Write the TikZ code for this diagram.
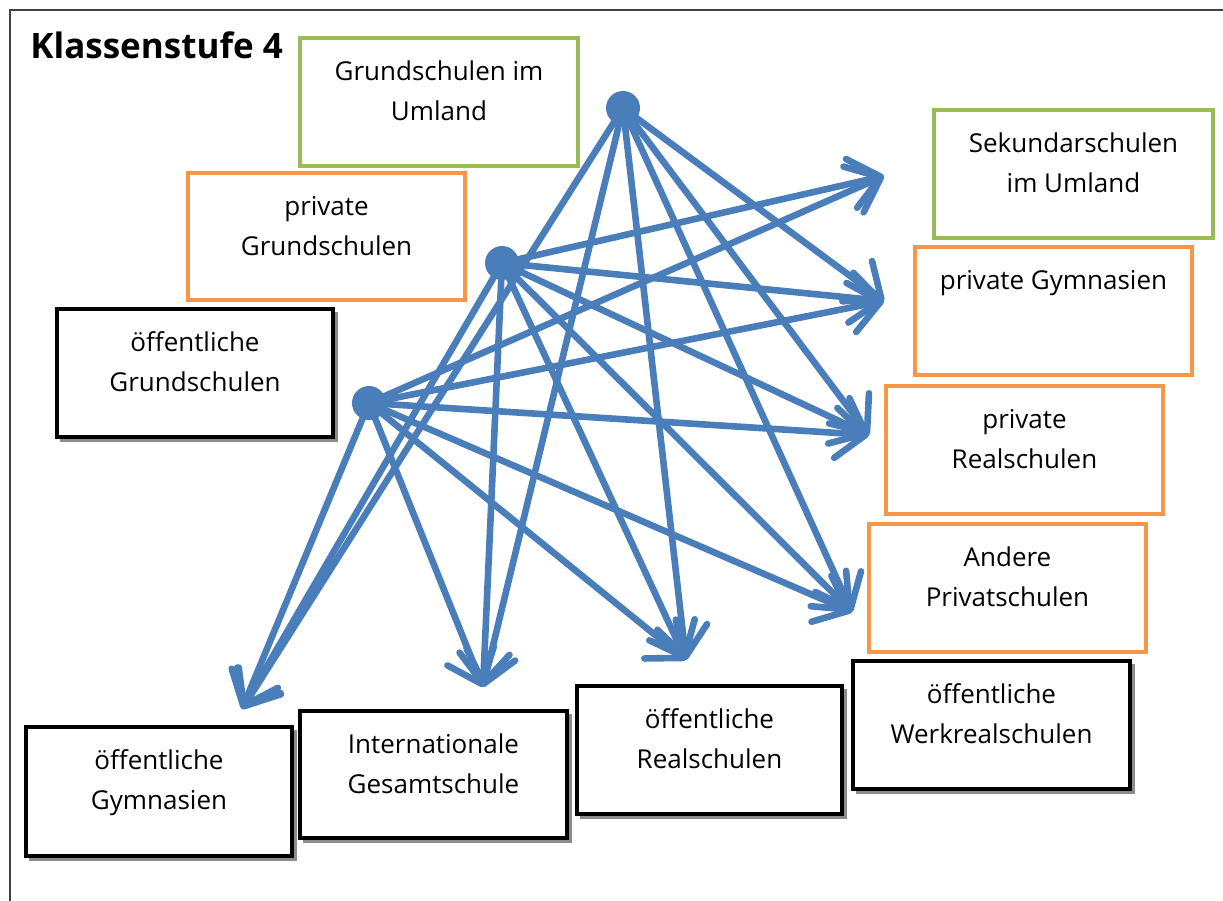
\documentclass[tikz,border=0pt]{standalone}
\usepackage{fontspec}
\setmainfont{Open Sans}
\usetikzlibrary{arrows.meta}
\definecolor{cgreen}{HTML}{9BBB59}
\definecolor{corange}{HTML}{F79646}
\definecolor{cblue}{HTML}{4A7EBB}
\definecolor{cframe}{HTML}{404040}
\tikzset{
  box/.style={rectangle, line width=2pt, outer sep=0pt, inner sep=0pt},
  gbox/.style={box, draw=cgreen},
  obox/.style={box, draw=corange},
  kbox/.style={box, draw=black, line width=2.2pt},
  shadowline/.style={draw=black!45, line width=1.5pt},
  txt/.style={font=\fontsize{13}{20}\selectfont, align=center, inner sep=0pt, anchor=north},
  arr/.style={draw=cblue, line width=3.3pt, line cap=round, -{Straight Barb[length=15pt,width=25pt,round]}},
  dot/.style={circle, fill=cblue, minimum size=17pt, inner sep=0pt},
  title/.style={font=\fontsize{17.5}{20}\selectfont\bfseries, anchor=west, inner sep=0pt}
}
\newcommand{\shadowof}[1]{\draw[shadowline] ([shift={(3,3)}]#1.south west) -- ([shift={(3,3)}]#1.south east) -- ([shift={(3,3)}]#1.north east);}
\begin{document}
\begin{tikzpicture}[x=0.5pt,y=-0.5pt]
\useasboundingbox (0,0) rectangle (1223,901);
\fill[white] (0,0) rectangle (1223,901);
\draw[cframe, line width=1pt] (1223,10) -- (10,10) -- (10,901);

\node[title] (ttl) at (30,45) {Klassenstufe 4};

% boxes
\node[gbox, minimum width=139pt, minimum height=64pt] (gu) at (439,102) {};
\node[obox, minimum width=138.5pt, minimum height=63.5pt] (pg) at (326.5,236.5) {};
\node[kbox, minimum width=138pt, minimum height=64pt] (og) at (195,373) {};
\node[gbox, minimum width=139.5pt, minimum height=64pt] (su) at (1073.5,174) {};
\node[obox, minimum width=138.5pt, minimum height=64pt] (pgym) at (1053.5,311) {};
\node[obox, minimum width=138.5pt, minimum height=64pt] (preal) at (1024.5,450) {};
\node[obox, minimum width=138.5pt, minimum height=64pt] (andp) at (1007.5,588) {};
\node[kbox, minimum width=138.5pt, minimum height=64pt] (owr) at (991.5,725) {};
\node[kbox, minimum width=132.5pt, minimum height=64pt] (orl) at (709.5,750) {};
\node[kbox, minimum width=133.5pt, minimum height=63.5pt] (igs) at (433.5,774.5) {};
\node[kbox, minimum width=133pt, minimum height=64.5pt] (ogym) at (159,791.5) {};

\shadowof{og}
\shadowof{owr}
\shadowof{orl}
\shadowof{igs}
\shadowof{ogym}

% texts
\node[txt] (tgu) at ([yshift=-7pt]gu.north) {\strut Grundschulen im\\Umland};
\node[txt] (tpg) at ([yshift=-7pt]pg.north) {\strut private\\Grundschulen};
\node[txt] (tog) at ([yshift=-7pt]og.north) {\strut öffentliche\\Grundschulen};
\node[txt] (tsu) at ([yshift=-7pt]su.north) {\strut Sekundarschulen\\im Umland};
\node[txt] (tpgym) at ([yshift=-7pt]pgym.north) {\strut private Gymnasien};
\node[txt] (tpreal) at ([yshift=-7pt]preal.north) {\strut private\\Realschulen};
\node[txt] (tandp) at ([yshift=-7pt]andp.north) {\strut Andere\\Privatschulen};
\node[txt] (towr) at ([yshift=-7pt]owr.north) {\strut öffentliche\\Werkrealschulen};
\node[txt] (torl) at ([yshift=-7pt]orl.north) {\strut öffentliche\\Realschulen};
\node[txt] (tigs) at ([yshift=-7pt]igs.north) {\strut Internationale\\Gesamtschule};
\node[txt] (togym) at ([yshift=-7pt]ogym.north) {\strut öffentliche\\Gymnasien};

% hubs
\coordinate (A) at (623,108);
\coordinate (B) at (502,263);
\coordinate (C) at (369,403);

% arrow tips
\coordinate (tSek) at (884,176);
\coordinate (tPGym) at (884,301);
\coordinate (tPReal) at (869,435);
\coordinate (tAnd) at (852,612);
\coordinate (tReal) at (686,660);
\coordinate (tIGS) at (483,687);
\coordinate (tGym) at (242,709);

\foreach \t in {tPGym,tPReal,tAnd,tReal,tIGS,tGym} \draw[arr] (A) -- (\t);
\foreach \t in {tSek,tPGym,tPReal,tAnd,tReal,tIGS,tGym} \draw[arr] (B) -- (\t);
\foreach \t in {tSek,tPGym,tPReal,tAnd,tReal,tIGS,tGym} \draw[arr] (C) -- (\t);

\node[dot] (dA) at (A) {};
\node[dot] (dB) at (B) {};
\node[dot] (dC) at (C) {};
\end{tikzpicture}
\end{document}
